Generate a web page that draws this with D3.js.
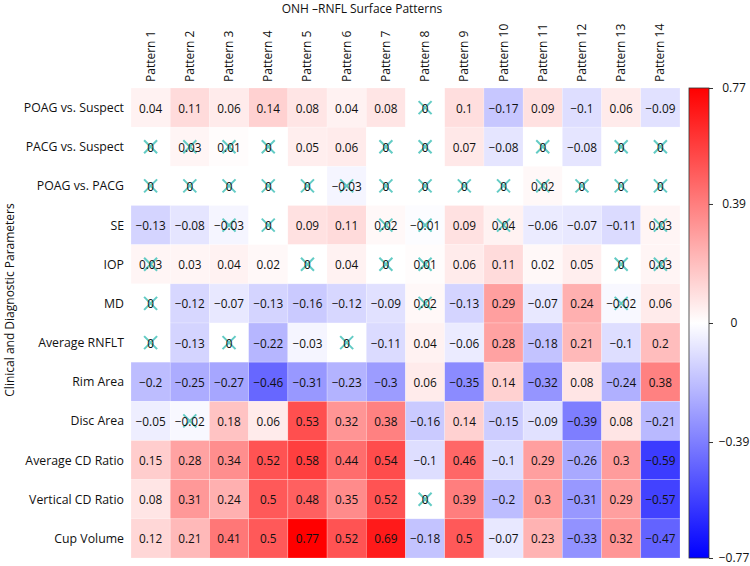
<!DOCTYPE html>
<html>
<head>
<meta charset="utf-8">
<script src="https://cdn.jsdelivr.net/npm/d3@7"></script>
<style>
  html, body { margin: 0; padding: 0; background: #fff; }
  svg { display: block; font-family: "Open Sans", "Noto Sans", sans-serif; }
</style>
</head>
<body>
<svg id="chart" width="750" height="566"></svg>
<script>
const title = "ONH \u2013RNFL Surface Patterns";
const yTitle = "Clinical and Diagnostic Parameters";

const patterns = ["Pattern 1","Pattern 2","Pattern 3","Pattern 4","Pattern 5","Pattern 6","Pattern 7",
  "Pattern 8","Pattern 9","Pattern 10","Pattern 11","Pattern 12","Pattern 13","Pattern 14"];

const parameters = ["POAG vs. Suspect","PACG vs. Suspect","POAG vs. PACG","SE","IOP","MD",
  "Average RNFLT","Rim Area","Disc Area","Average CD Ratio","Vertical CD Ratio","Cup Volume"];

const values = [
  [0.04, 0.11, 0.06, 0.14, 0.08, 0.04, 0.08, 0, 0.1, -0.17, 0.09, -0.1, 0.06, -0.09],
  [0, 0.03, 0.01, 0, 0.05, 0.06, 0, 0, 0.07, -0.08, 0, -0.08, 0, 0],
  [0, 0, 0, 0, 0, -0.03, 0, 0, 0, 0, 0.02, 0, 0, 0],
  [-0.13, -0.08, -0.03, 0, 0.09, 0.11, 0.02, -0.01, 0.09, 0.04, -0.06, -0.07, -0.11, 0.03],
  [0.03, 0.03, 0.04, 0.02, 0, 0.04, 0, 0.01, 0.06, 0.11, 0.02, 0.05, 0, 0.03],
  [0, -0.12, -0.07, -0.13, -0.16, -0.12, -0.09, 0.02, -0.13, 0.29, -0.07, 0.24, -0.02, 0.06],
  [0, -0.13, 0, -0.22, -0.03, 0, -0.11, 0.04, -0.06, 0.28, -0.18, 0.21, -0.1, 0.2],
  [-0.2, -0.25, -0.27, -0.46, -0.31, -0.23, -0.3, 0.06, -0.35, 0.14, -0.32, 0.08, -0.24, 0.38],
  [-0.05, -0.02, 0.18, 0.06, 0.53, 0.32, 0.38, -0.16, 0.14, -0.15, -0.09, -0.39, 0.08, -0.21],
  [0.15, 0.28, 0.34, 0.52, 0.58, 0.44, 0.54, -0.1, 0.46, -0.1, 0.29, -0.26, 0.3, -0.59],
  [0.08, 0.31, 0.24, 0.5, 0.48, 0.35, 0.52, 0, 0.39, -0.2, 0.3, -0.31, 0.29, -0.57],
  [0.12, 0.21, 0.41, 0.5, 0.77, 0.52, 0.69, -0.18, 0.5, -0.07, 0.23, -0.33, 0.32, -0.47]
];

// 1 = not significant (crossed out)
const crossed = [
  [0,0,0,0,0,0,0,1,0,0,0,0,0,0],
  [1,1,1,1,0,0,1,1,0,0,1,0,1,1],
  [1,1,1,1,1,1,1,1,1,1,1,1,1,1],
  [0,0,1,1,0,0,1,1,0,1,0,0,0,1],
  [1,0,0,0,1,0,1,1,0,0,0,0,1,1],
  [1,0,0,0,0,0,0,1,0,0,0,0,1,0],
  [1,0,1,0,0,1,0,0,0,0,0,0,0,0],
  [0,0,0,0,0,0,0,0,0,0,0,0,0,0],
  [0,1,0,0,0,0,0,0,0,0,0,0,0,0],
  [0,0,0,0,0,0,0,0,0,0,0,0,0,0],
  [0,0,0,0,0,0,0,1,0,0,0,0,0,0],
  [0,0,0,0,0,0,0,0,0,0,0,0,0,0]
];

const colorTicks = [-0.77, -0.39, 0, 0.39, 0.77];
const vmin = -0.77, vmax = 0.77;

const svg = d3.select("#chart");

const x = d3.scaleBand().domain(patterns).range([131, 680]).paddingInner(0);
const y = d3.scaleBand().domain(parameters).range([88, 558]).paddingInner(0);

// bwr colormap
function bwr(v) {
  const t = Math.max(0, Math.min(1, (v - vmin) / (vmax - vmin)));
  let r, g, b;
  if (t < 0.5) { r = g = 2 * t; b = 1; }
  else { r = 1; g = b = 2 * (1 - t); }
  return d3.rgb(r * 255, g * 255, b * 255).toString();
}
const fmt = v => String(+v.toFixed(2)).replace("-", "\u2212");

const cells = [];
parameters.forEach((p, i) => patterns.forEach((c, j) => {
  cells.push({ row: p, col: c, v: values[i][j], ns: crossed[i][j] === 1 });
}));

const g = svg.append("g");
g.selectAll("rect.cell").data(cells).join("rect")
  .attr("class", "cell")
  .attr("x", d => x(d.col))
  .attr("y", d => y(d.row))
  .attr("width", x.bandwidth())
  .attr("height", y.bandwidth())
  .attr("fill", d => bwr(d.v))
  .attr("stroke", "#ffffff")
  .attr("stroke-opacity", 0.35)
  .attr("stroke-width", 0.6);

// crosses for non-significant cells
const xs = 6.5;
const cross = g.selectAll("g.cross").data(cells.filter(d => d.ns)).join("g")
  .attr("class", "cross")
  .attr("transform", d => `translate(${x(d.col) + x.bandwidth() / 2},${y(d.row) + y.bandwidth() / 2})`);
cross.append("line").attr("x1", -xs).attr("y1", -xs).attr("x2", xs).attr("y2", xs)
  .attr("stroke", "#62cbc4").attr("stroke-width", 2);
cross.append("line").attr("x1", -xs).attr("y1", xs).attr("x2", xs).attr("y2", -xs)
  .attr("stroke", "#62cbc4").attr("stroke-width", 2);

g.selectAll("text.val").data(cells).join("text")
  .attr("class", "val")
  .attr("x", d => x(d.col) + x.bandwidth() / 2)
  .attr("y", d => y(d.row) + y.bandwidth() / 2)
  .attr("text-anchor", "middle")
  .attr("dominant-baseline", "central")
  .attr("font-size", 11.8)
  .attr("fill", "#111")
  .text(d => fmt(d.v));

// column labels
svg.append("g").selectAll("text").data(patterns).join("text")
  .attr("transform", d => `translate(${x(d) + x.bandwidth() / 2 + 4},82) rotate(-90)`)
  .attr("text-anchor", "start")
  .attr("font-size", 12)
  .attr("fill", "#111")
  .text(d => d);

// row labels
svg.append("g").selectAll("text").data(parameters).join("text")
  .attr("x", 124)
  .attr("y", d => y(d) + y.bandwidth() / 2)
  .attr("text-anchor", "end")
  .attr("dominant-baseline", "central")
  .attr("font-size", 12.3)
  .attr("fill", "#111")
  .text(d => d);

// titles
svg.append("text").attr("x", 362).attr("y", 13).attr("text-anchor", "middle")
  .attr("font-size", 12).attr("fill", "#111").text(title);
svg.append("text").attr("transform", "translate(13.5,300) rotate(-90)")
  .attr("text-anchor", "middle").attr("font-size", 12).attr("fill", "#111").text(yTitle);

// colorbar
const cb = d3.scaleLinear().domain([vmin, vmax]).range([558, 88]);
const defs = svg.append("defs");
const grad = defs.append("linearGradient").attr("id", "cbgrad")
  .attr("x1", 0).attr("y1", 1).attr("x2", 0).attr("y2", 0);
d3.range(0, 1.0001, 0.05).forEach(t => {
  grad.append("stop").attr("offset", t).attr("stop-color", bwr(vmin + t * (vmax - vmin)));
});
svg.append("rect").attr("x", 689).attr("y", 88).attr("width", 20).attr("height", 470)
  .attr("fill", "url(#cbgrad)").attr("stroke", "#333").attr("stroke-width", 0.8);

const cbAxis = d3.axisRight(cb).tickValues(colorTicks).tickSize(4).tickPadding(6)
  .tickFormat(v => String(v).replace("-", "\u2212"));
const ax = svg.append("g").attr("transform", "translate(709,0)").call(cbAxis);
ax.select(".domain").remove();
ax.selectAll(".tick line").attr("stroke", "#333");
ax.selectAll(".tick text").attr("font-size", 12).attr("fill", "#111")
  .attr("font-family", "Open Sans, sans-serif")
  .attr("text-anchor", "middle").attr("x", 25);
</script>
</body>
</html>
